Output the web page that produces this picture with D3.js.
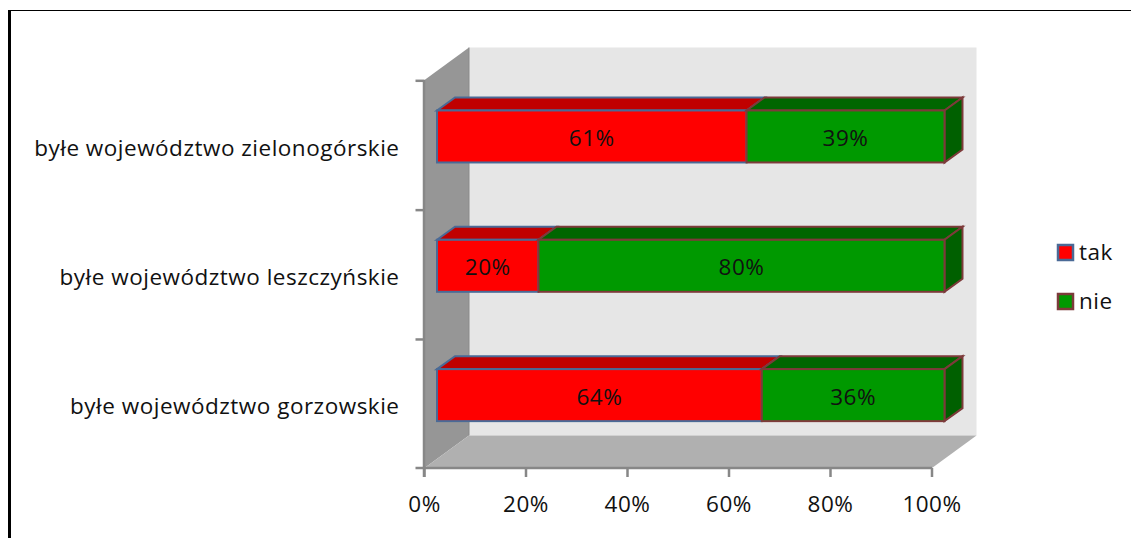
<!DOCTYPE html>
<html><head><meta charset="utf-8">
<script src="https://cdn.jsdelivr.net/npm/d3@7"></script>
<style>html,body{margin:0;padding:0;background:#fff;overflow:hidden}svg{display:block}text{font-family:"Open Sans",sans-serif;fill:#111;letter-spacing:0.5px}</style>
</head><body><svg id="c" width="1131" height="538"></svg>
<script>
const categories=["byłe województwo zielonogórskie","byłe województwo leszczyńskie","byłe województwo gorzowskie"];
const seriesNames=["tak","nie"];
const tak=[61,20,64];
const nie=[39,80,36];
const tickValues=[0,20,40,60,80,100];
const fills={tak:"#ff0000",nie:"#009900"};
const tops={tak:"#c00000",nie:"#006600"};
const sides={tak:"#c00000",nie:"#006000"};
const strokes={tak:"#4a6a96",nie:"#7d3a3a"};
const fontSize=22.5;

const svg=d3.select("#c");
const x=d3.scaleLinear().domain([0,100]).range([424.5,932]);
const y=d3.scaleBand().domain(categories).range([80,468]);
const wall={dx:44.5,dy:-32.5};
const bar={ox:12.5,oy:-8.2,dx:18,dy:-13,h:52};
const poly=p=>"M"+p.map(a=>a.join(",")).join("L")+"Z";

svg.append("rect").attr("x",8).attr("y",10).attr("width",1123).attr("height",1).attr("fill","#000");
svg.append("rect").attr("x",8).attr("y",10).attr("width",3).attr("height",528).attr("fill","#000");

const X0=x(0),X1=x(100),Y0=y.range()[0],Y1=y.range()[1];
svg.append("path").attr("d",poly([[X0+wall.dx,Y0+wall.dy],[X1+wall.dx,Y0+wall.dy],[X1+wall.dx,Y1+wall.dy],[X0+wall.dx,Y1+wall.dy]])).attr("fill","#e6e6e6");
svg.append("path").attr("d",poly([[X0,Y0],[X0+wall.dx,Y0+wall.dy],[X0+wall.dx,Y1+wall.dy],[X0,Y1]])).attr("fill","#969696");
svg.append("line").attr("x1",X0+wall.dx).attr("x2",X0+wall.dx).attr("y1",Y0+wall.dy).attr("y2",Y1+wall.dy).attr("stroke","#8a8a8a");
svg.append("path").attr("d",poly([[X0,Y1],[X0+wall.dx,Y1+wall.dy],[X1+wall.dx,Y1+wall.dy],[X1,Y1]])).attr("fill","#b0b0b0");

const axisColor="#878787";
const gy=svg.append("g");
gy.append("line").attr("x1",X0-0.5).attr("x2",X0-0.5).attr("y1",Y0).attr("y2",Y1+9).attr("stroke",axisColor).attr("stroke-width",2.5);
[...categories.map(c=>y(c)+0.8),Y1].forEach(v=>gy.append("line").attr("x1",X0-9).attr("x2",X0).attr("y1",v).attr("y2",v).attr("stroke",axisColor).attr("stroke-width",2.5));
const gx=svg.append("g");
gx.append("line").attr("x1",X0).attr("x2",X1).attr("y1",Y1).attr("y2",Y1).attr("stroke",axisColor).attr("stroke-width",2.5);
gx.selectAll("line.t").data(tickValues).join("line").attr("class","t").attr("x1",d=>x(d)).attr("x2",d=>x(d)).attr("y1",Y1).attr("y2",Y1+9).attr("stroke",axisColor).attr("stroke-width",2.5);
gx.selectAll("text").data(tickValues).join("text").attr("x",d=>x(d)).attr("y",512).attr("text-anchor","middle").attr("font-size",fontSize).text(d=>d+"%");

svg.selectAll("text.cat").data(categories).join("text").attr("class","cat")
  .attr("x",399.5).attr("y",c=>y(c)+y.bandwidth()/2+11).attr("text-anchor","end").attr("font-size",fontSize).text(c=>c);

const rows=categories.map((c,i)=>({c,tak:tak[i],nie:nie[i]}));
const stacked=d3.stack().keys(seriesNames)(rows);
stacked.forEach(s=>{
  const k=s.key, g=svg.append("g");
  s.forEach(d=>{
    const xa=x(d[0])+bar.ox, xb=x(d[1])+bar.ox;
    const yt=y(d.data.c)+y.bandwidth()/2+bar.oy-bar.h/2, yb=yt+bar.h;
    g.append("path").attr("d",poly([[xa,yt],[xa+bar.dx,yt+bar.dy],[xb+bar.dx,yt+bar.dy],[xb,yt]])).attr("fill",tops[k]).attr("stroke",strokes[k]).attr("stroke-width",2);
    if(d[1]===100) g.append("path").attr("d",poly([[xb,yt],[xb+bar.dx,yt+bar.dy],[xb+bar.dx,yb+bar.dy],[xb,yb]])).attr("fill",sides[k]).attr("stroke",strokes[k]).attr("stroke-width",2);
    g.append("rect").attr("x",xa).attr("y",yt).attr("width",xb-xa).attr("height",bar.h).attr("fill",fills[k]).attr("stroke",strokes[k]).attr("stroke-width",2);
  });
});
stacked.forEach(s=>s.forEach(d=>{
  svg.append("text").attr("x",(x(d[0])+x(d[1]))/2+bar.ox).attr("y",y(d.data.c)+y.bandwidth()/2+bar.oy+9.5).attr("text-anchor","middle").attr("font-size",fontSize).text((d[1]-d[0])+"%");
}));

const legendY=d3.scalePoint().domain(seriesNames).range([252,301]);
seriesNames.forEach(k=>{
  svg.append("rect").attr("x",1058).attr("y",legendY(k)-7).attr("width",15).attr("height",15).attr("fill",fills[k]).attr("stroke",strokes[k]).attr("stroke-width",2.5);
  svg.append("text").attr("x",1079).attr("y",legendY(k)+8).attr("font-size",fontSize).text(k);
});
</script></body></html>
